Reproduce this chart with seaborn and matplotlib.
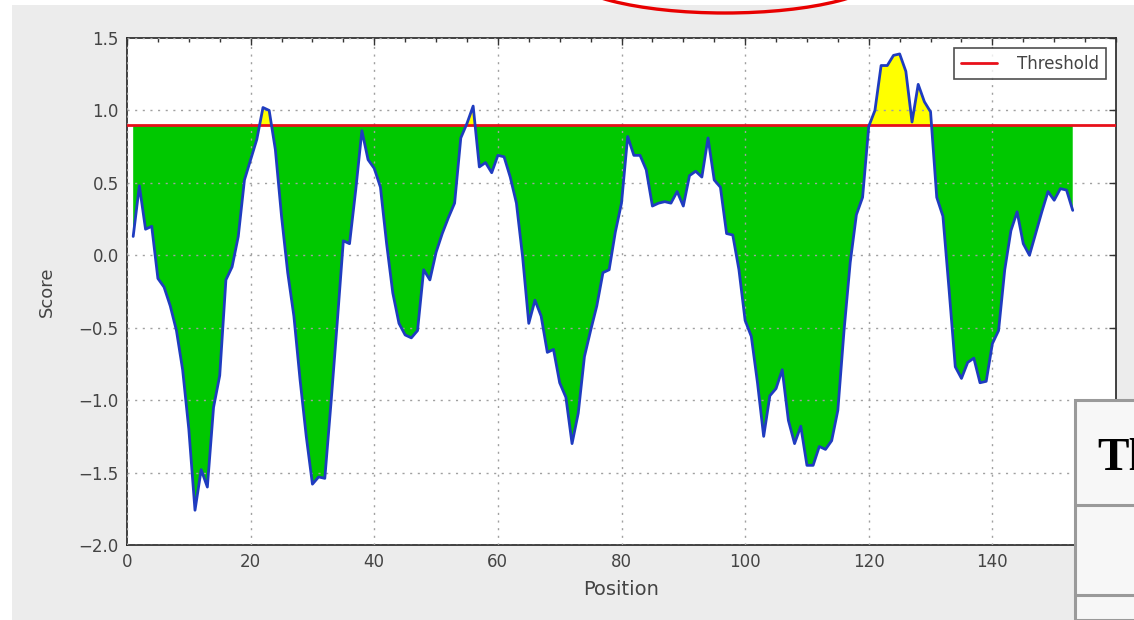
import numpy as np
import pandas as pd
import matplotlib
matplotlib.use("Agg")
import matplotlib.pyplot as plt
from matplotlib.patches import Rectangle, Ellipse
from matplotlib.lines import Line2D
from matplotlib.ticker import MultipleLocator
import seaborn as sns

# Per-residue scores along the sequence
positions = np.arange(1, 154)
scores = [
    0.13, 0.48, 0.18, 0.20, -0.16, -0.22, -0.35, -0.52, -0.79, -1.20,
    -1.76, -1.48, -1.60, -1.05, -0.83, -0.17, -0.08, 0.13, 0.52, 0.66,
    0.80, 1.02, 1.00, 0.73, 0.27, -0.12, -0.42, -0.86, -1.25, -1.58,
    -1.53, -1.54, -1.02, -0.47, 0.10, 0.08, 0.45, 0.86, 0.66, 0.60,
    0.47, 0.08, -0.26, -0.47, -0.55, -0.57, -0.52, -0.10, -0.17, 0.02,
    0.15, 0.26, 0.36, 0.81, 0.91, 1.03, 0.61, 0.64, 0.57, 0.69,
    0.68, 0.54, 0.36, -0.01, -0.47, -0.31, -0.42, -0.67, -0.65, -0.88,
    -0.98, -1.30, -1.09, -0.70, -0.52, -0.35, -0.12, -0.10, 0.16, 0.36,
    0.82, 0.69, 0.69, 0.59, 0.34, 0.36, 0.37, 0.36, 0.44, 0.34,
    0.55, 0.58, 0.54, 0.81, 0.52, 0.47, 0.15, 0.14, -0.10, -0.45,
    -0.56, -0.88, -1.25, -0.97, -0.92, -0.79, -1.14, -1.30, -1.18, -1.45,
    -1.45, -1.32, -1.34, -1.28, -1.07, -0.52, -0.05, 0.28, 0.40, 0.89,
    1.00, 1.31, 1.31, 1.38, 1.39, 1.27, 0.92, 1.18, 1.06, 0.99,
    0.40, 0.27, -0.24, -0.77, -0.85, -0.74, -0.71, -0.88, -0.87, -0.61,
    -0.52, -0.10, 0.17, 0.30, 0.08, 0.00, 0.15, 0.30, 0.44, 0.38,
    0.46, 0.45, 0.31,
]
threshold = 0.9
x_ticks = [0, 20, 40, 60, 80, 100, 120, 140]
y_ticks = [-2.0, -1.5, -1.0, -0.5, 0.0, 0.5, 1.0, 1.5]

df = pd.DataFrame({"Position": positions, "Score": scores})

sns.set_style("white")
plt.rcParams["font.family"] = ["DejaVu Sans"]

W, H = 1134, 620
fig = plt.figure(figsize=(W / 100, H / 100), dpi=100)
fig.patch.set_facecolor("white")
fig.patches.append(Rectangle((12 / W, 0), 1 - 12 / W, 1 - 5 / H,
                             transform=fig.transFigure, facecolor="#ececec",
                             edgecolor="none", zorder=-10))

ax = fig.add_axes([127 / W, 1 - 545 / H, (1116 - 127) / W, (545 - 38) / H])
ax.set_facecolor("white")

y = df["Score"].to_numpy()
xv = df["Position"].to_numpy()
ax.fill_between(xv, y, threshold, where=y <= threshold, interpolate=True,
                color="#00c800", linewidth=0, zorder=2)
ax.fill_between(xv, y, threshold, where=y >= threshold, interpolate=True,
                color="#ffff00", linewidth=0, zorder=2)
sns.lineplot(data=df, x="Position", y="Score", ax=ax, color="#1f3cc0",
             linewidth=2, zorder=4)
ax.axhline(threshold, color="#e8101a", linewidth=2, zorder=3)

ax.set_xlim(0, 160)
ax.set_ylim(-2.0, 1.5)
ax.set_xticks(x_ticks)
ax.set_yticks(y_ticks)
ax.set_yticklabels([f"{v:.1f}".replace("-", "\u2212") for v in y_ticks])
ax.xaxis.set_minor_locator(MultipleLocator(5))
ax.tick_params(which="both", direction="in", top=True, right=True,
               colors="#333333", labelcolor="#444444", labelsize=12)
ax.tick_params(which="major", length=5, width=1, pad=6)
ax.tick_params(which="minor", length=3, width=1)
ax.grid(True, which="major", color="#a0a0a0", linestyle=(0, (1.5, 4)), linewidth=1)
ax.set_axisbelow(False)
for s in ax.spines.values():
    s.set_color("#222222")
    s.set_linewidth(1.2)
ax.set_xlabel("Position", fontsize=14, color="#444444", labelpad=6)
ax.set_ylabel("Score", fontsize=13, color="#444444", labelpad=16)

handle = Line2D([], [], color="#e8101a", linewidth=2)
leg = ax.legend([handle], ["Threshold"], loc="upper right", fontsize=12,
                frameon=True, fancybox=False, borderaxespad=0.6,
                handlelength=2.2, handletextpad=1.2, labelcolor="#444444")
leg.get_frame().set_edgecolor("#222222")
leg.get_frame().set_linewidth(1.2)
leg.set_zorder(10)

# red highlight ring at the top edge
fig.patches.append(Ellipse((725 / W, 1 + 28 / H), 320 / W, 82 / H,
                           transform=fig.transFigure, fill=False,
                           edgecolor="#e80000", linewidth=2.4, zorder=20))

# table panel overlapping the lower right corner
fig.patches.append(Rectangle((1075 / W, 0), 1, (H - 400) / H,
                             transform=fig.transFigure, facecolor="#f7f7f7",
                             edgecolor="#9a9a9a", linewidth=2.2, zorder=20))
for yy in (505, 595):
    fig.add_artist(Line2D([1075 / W, 1], [1 - yy / H, 1 - yy / H],
                          transform=fig.transFigure, color="#9a9a9a",
                          linewidth=2.2, zorder=21))
fig.text(1097 / W, 1 - 470 / H, "Th", fontsize=34, fontweight="bold",
         family="Liberation Serif", color="black", zorder=22)

fig.savefig("out.png", dpi=100)
